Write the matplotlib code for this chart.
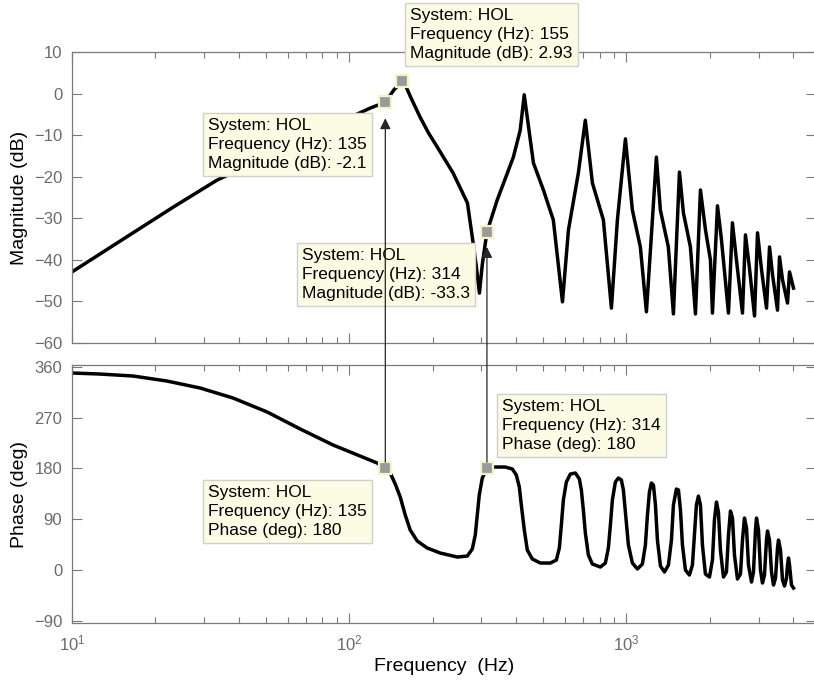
import matplotlib
matplotlib.use("Agg")
import matplotlib.pyplot as plt
from matplotlib.patches import ConnectionPatch

plt.rcParams['font.family'] = ['Liberation Sans', 'DejaVu Sans']
plt.rcParams['mathtext.fontset'] = 'custom'
plt.rcParams['mathtext.rm'] = 'Liberation Sans'
plt.rcParams['mathtext.default'] = 'regular'

# Magnitude curve (Hz, dB)
mag_freq = [10, 16.6, 23.2, 33.4, 47.7, 66.5, 92.8, 119, 135, 145, 155, 160, 167, 180, 193,
            208, 237, 267, 278, 287, 295, 302, 314, 342, 391, 414, 428, 462, 502, 545, 588,
            618, 671, 711, 754, 826, 883, 928, 992, 1051, 1123, 1181, 1241, 1283, 1326,
            1417, 1478, 1554, 1606, 1702, 1775, 1850, 1929, 2010, 2044, 2131, 2203, 2335,
            2413, 2495, 2623, 2689, 2780, 2899, 2972, 3073, 3203, 3284, 3367, 3509, 3568,
            3658, 3813, 3877, 4008]
mag_db = [-42.9, -33.5, -27.3, -20.8, -16.0, -11.4, -6.8, -3.5, -2.1, 0.9, 2.93, 1.8, -1.0,
          -5.6, -9.4, -12.9, -19.1, -26.3, -34.5, -41.2, -48.0, -41.2, -33.3, -25.6, -15.3,
          -8.8, -0.3, -16.7, -23.2, -30.4, -50.1, -32.8, -19.1, -6.4, -21.5, -30.4, -51.6,
          -30.4, -10.9, -28.0, -36.9, -52.5, -30.4, -15.3, -28.0, -36.9, -53.0, -18.9, -28.7,
          -36.9, -53.0, -23.2, -32.8, -40.0, -52.8, -27.0, -35.2, -52.8, -31.1, -40.0, -52.8,
          -34.0, -42.0, -53.5, -33.5, -42.4, -51.6, -36.9, -43.6, -52.1, -39.3, -44.8, -50.4,
          -42.9, -46.8]

# Phase curve (Hz, deg)
phase_freq = [10, 12.6, 16.6, 22.0, 29.0, 38.1, 50.6, 66.5, 87.5, 100.8, 126.2, 135,
              140.6, 146.6, 152.8, 159.3, 166.0, 176.0, 191.2, 213.1, 245.4, 266.7, 278.0,
              285.0, 289.8, 294.6, 302.1, 314,
              331, 365.8, 387.7, 400.8, 410.9, 417.8, 428.3, 439.1, 457.8, 489.3, 531.7,
              558.9, 573.0, 582.6, 592.4, 607.3, 627.8, 654.5, 676.6, 687.9, 699.5, 711.2,
              729.2, 753.8, 805.7, 839.8, 861.0, 875.5, 890.1, 912.6, 935.7, 959.3, 975.4,
              991.7, 1016.8, 1051, 1096, 1142, 1171, 1191, 1211, 1231, 1252, 1273, 1294,
              1327, 1372, 1418, 1454, 1478, 1515, 1541, 1567, 1593, 1633, 1688, 1731, 1760,
              1789, 1819, 1850, 1881, 1928, 1994, 2044, 2078, 2113, 2148, 2184, 2240, 2296,
              2335, 2374, 2414, 2454, 2516, 2580, 2623, 2667, 2712, 2757, 2827, 2874, 2922,
              2947, 2996, 3046, 3097, 3149, 3202, 3229, 3283, 3338, 3394, 3451, 3509, 3538,
              3597, 3658, 3719, 3781, 3813, 3844, 3877, 3941, 4007]
phase_deg = [349.1, 347.3, 343.8, 334.9, 322.5, 304.8, 280.0, 250.0, 221.5, 209.1, 189.6, 180,
             171.9, 152.4, 129.4, 97.5, 70.9, 51.4, 39.0, 30.1, 23.0, 24.8, 37.2,
             62.0, 97.5, 132.9, 163.0, 180,
             182.5, 182.5, 179, 168.3, 147.1, 115.2, 70.9, 35.4, 19.5, 12.4, 12.4,
             17.7, 39.0, 79.7, 124.0, 155.9, 170.1, 171.9, 161.3, 141.8, 106.3, 65.5,
             26.6, 10.6, 5.3, 12.4, 39.0, 79.7, 124.0, 155.9, 163.0, 159.5, 141.8,
             102.8, 44.3, 12.4, 1.8, 10.6, 44.3, 97.5, 138.2, 154.2, 150.6, 115.2, 53.2,
             7.1, -3.5, 8.9, 53.2, 115.2, 143.5, 141.8, 106.3, 44.3, 0, -8.9, 8.9, 62.0,
             115.2, 131.1, 115.2, 44.3, -7.1, -12.4, 17.7, 88.6, 120.5, 102.8, 35.4, -12.4, -3.5,
             62.0, 104.5, 92.1, 26.6, -15.9, -7.1, 53.2, 92.1, 74.4, 8.9, -21.3, -3.5, 70.9,
             92.1, 70.9, 0, -23.0, -8.9, 53.2, 69.1, 53.2, -3.5, -26.6, -14.2, 39.0, 53.2,
             35.4, -17.7, -28.4, -14.2, 8.9, 21.3, 8.9, -26.6, -31.9]

# data tips: (frequency, value, label)
mag_tips = [(155, 2.93, "2.93"), (135, -2.1, "-2.1"), (314, -33.3, "-33.3")]
phase_tips = [(314, 180, "180"), (135, 180, "180")]
mag_offsets = [(8, 73), (-177, -16), (-185, -16)]
phase_offsets = [(15, 69), (-177, -17)]

axis_gray = '#7a7a7a'
label_gray = '#6b6b6b'

fig = plt.figure(figsize=(8.14, 6.82), dpi=100)
ax1 = fig.add_axes([72 / 814, 1 - 343 / 682, 743.5 / 814, 291 / 682])
ax2 = fig.add_axes([72 / 814, 1 - 623.3 / 682, 743.5 / 814, 258.3 / 682])

ax1.plot(mag_freq, mag_db, color='black', lw=2.5, solid_joinstyle='round')
ax2.plot(phase_freq, phase_deg, color='black', lw=2.5, solid_joinstyle='round')

for ax in (ax1, ax2):
    ax.set_xscale('log')
    ax.set_xlim(10, 4811)
    ax.tick_params(which='both', direction='in', top=True, right=True,
                   color=axis_gray, labelcolor=label_gray, labelsize=12, pad=7)
    ax.tick_params(which='major', length=7, width=0.8)
    ax.tick_params(which='minor', length=4, width=0.8)
    for s in ax.spines.values():
        s.set_color(axis_gray)
        s.set_linewidth(0.9)

ax1.set_ylim(-60, 10)
ax1.set_yticks(range(-60, 11, 10))
ax1.tick_params(labelbottom=False)
ax1.set_ylabel("Magnitude (dB)", fontsize=14)

ax2.set_ylim(-94.4, 363.3)
ax2.set_yticks([-90, 0, 90, 180, 270, 360])
ax2.set_ylabel("Phase (deg)", fontsize=14)
ax2.set_xlabel("Frequency  (Hz)", fontsize=14)

box = dict(boxstyle='square,pad=0.3', fc='#fcfce4', ec='#cfcfcf', lw=1)
mk = dict(marker='s', ms=8.5, mfc='#9a9a9a', mec='#f4f4c8', mew=1.6, ls='none', zorder=5)

for (f, v, s), (dx, dy) in zip(mag_tips, mag_offsets):
    ax1.plot([f], [v], **mk)
    ax1.annotate("System: HOL\nFrequency (Hz): %d\nMagnitude (dB): %s" % (f, s),
                 xy=(f, v), xytext=(dx, dy), textcoords='offset pixels',
                 ha='left', va='top', fontsize=12.5, linespacing=1.32,
                 bbox=box, zorder=6, annotation_clip=False)

for (f, v, s), (dx, dy) in zip(phase_tips, phase_offsets):
    ax2.plot([f], [v], **mk)
    ax2.annotate("System: HOL\nFrequency (Hz): %d\nPhase (deg): %s" % (f, s),
                 xy=(f, v), xytext=(dx, dy), textcoords='offset pixels',
                 ha='left', va='top', fontsize=12.5, linespacing=1.32,
                 bbox=box, zorder=6, annotation_clip=False)

# links between the phase and magnitude data tips
for f, v_mag, shrink in [(135, -2.1, 11.5), (314, -33.3, 10.8)]:
    con = ConnectionPatch(xyA=(f, 180), coordsA=ax2.transData,
                          xyB=(f, v_mag), coordsB=ax1.transData,
                          arrowstyle='-|>', shrinkA=4.5, shrinkB=shrink,
                          mutation_scale=16, color='#262626', lw=0.9)
    fig.add_artist(con)

fig.savefig("out.png", dpi=100)
